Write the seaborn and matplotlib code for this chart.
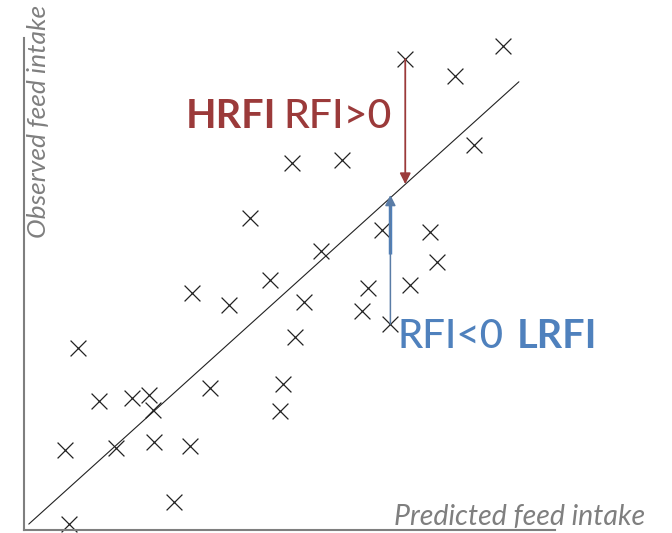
import matplotlib
matplotlib.use("Agg")
import matplotlib.pyplot as plt
import seaborn as sns
import pandas as pd

# --- data (arbitrary units) ---
predicted = [71.8, 90.2, 81.2, 84.7, 50.5, 59.9, 42.6, 67.4, 76.5, 55.9,
             77.8, 46.3, 31.6, 38.6, 52.7, 64.8, 72.7, 63.7, 68.9, 51.0,
             10.2, 48.8, 48.2, 35.0, 14.1, 20.3, 23.5, 24.3, 7.7, 17.3,
             24.5, 31.3, 28.2, 8.5]
observed = [95.7, 98.4, 92.3, 78.3, 74.6, 75.2, 63.4, 61.0, 60.6, 56.7,
            54.5, 50.8, 48.2, 45.7, 46.3, 49.2, 49.8, 44.5, 41.9, 39.2,
            37.0, 29.7, 24.2, 28.9, 26.2, 26.8, 27.4, 24.4, 16.3, 16.7,
            17.9, 17.1, 5.7, 1.2]

fit_x = [0.9, 93.2]
fit_y = [1.2, 91.1]

hrfi_x, hrfi_top, hrfi_line = 71.8, 95.7, 70.3
lrfi_x, lrfi_bottom, lrfi_line = 69.0, 41.9, 68.1

RED = "#9b3a3a"
BLUE = "#4f81bd"
GRAY = "#7f7f7f"

sns.set_theme(style="white")
plt.rcParams["font.family"] = ["Lato", "DejaVu Sans"]

df = pd.DataFrame({"pred": predicted, "obs": observed})

fig = plt.figure(figsize=(6.72, 5.33), dpi=100)
ax = fig.add_axes([24 / 672, 3 / 533, 531 / 672, 492 / 533])

sns.lineplot(x=fit_x, y=fit_y, ax=ax, color="#222222", linewidth=0.8)
sns.scatterplot(data=df, x="pred", y="obs", ax=ax, marker="x", s=130,
                color="#222222", linewidth=0.9, clip_on=False)

# residual arrows
ax.annotate("", xy=(hrfi_x, hrfi_line), xytext=(hrfi_x, hrfi_top),
            arrowprops=dict(arrowstyle="-|>", color=RED, lw=1.3,
                            mutation_scale=16, shrinkA=0, shrinkB=0))
ax.annotate("", xy=(lrfi_x, lrfi_line), xytext=(lrfi_x, lrfi_bottom),
            arrowprops=dict(arrowstyle="-|>", color="#5a7ca6", lw=1.1,
                            mutation_scale=16, shrinkA=0, shrinkB=0))
ax.plot([lrfi_x, lrfi_x], [56.1, 66.0], color=BLUE, lw=2.5, solid_capstyle="butt")

# labels
ax.text(30.5, 81.7, "HRFI", color=RED, fontsize=28.5, fontweight="bold", va="baseline")
ax.text(48.8, 81.7, "RFI>0", color=RED, fontsize=29.5, fontweight="medium", va="baseline")
ax.text(70.4, 37.0, "RFI<0", color=BLUE, fontsize=29, fontweight="medium",
        va="baseline", clip_on=False)
ax.text(92.8, 37.0, "LRFI", color=BLUE, fontsize=28.5, fontweight="bold",
        va="baseline", clip_on=False)

ax.text(117.0, 1.0, "Predicted feed intake", color=GRAY, fontsize=20.5,
        style="italic", ha="right", va="baseline", clip_on=False)
ax.text(0.5, 106.7, "Observed feed intake", color=GRAY, fontsize=19,
        style="italic", rotation=90, ha="left", va="top", clip_on=False)

ax.set_xlim(0, 100)
ax.set_ylim(0, 100)
ax.set_xticks([])
ax.set_yticks([])
ax.set_xlabel("")
ax.set_ylabel("")
for side in ["top", "right"]:
    ax.spines[side].set_visible(False)
for side in ["left", "bottom"]:
    ax.spines[side].set_color(GRAY)
    ax.spines[side].set_linewidth(1.5)

fig.savefig("out.png", dpi=100)
